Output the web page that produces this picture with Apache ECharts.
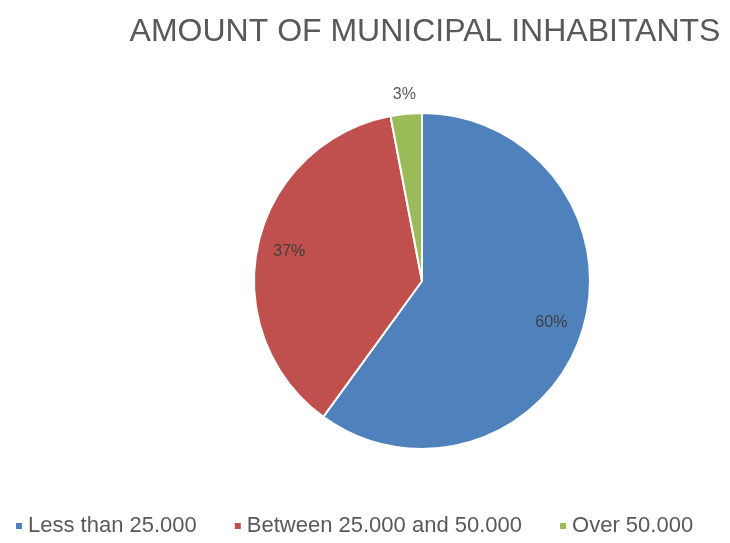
<!DOCTYPE html>
<html>
<head>
<meta charset="utf-8">
<script src="https://cdn.jsdelivr.net/npm/echarts@6/dist/echarts.min.js"></script>
<style>
  html, body { margin: 0; padding: 0; background: #fff; }
  #chart { width: 730px; height: 543px; }
</style>
</head>
<body>
<div id="chart"></div>
<script>
var categories = ["Less than 25.000", "Between 25.000 and 50.000", "Over 50.000"];
var shares = [60, 37, 3];
var colors = ["#4F81BD", "#C0504D", "#9BBB59"];

var pieData = categories.map(function (name, i) {
  return { name: name, value: shares[i], itemStyle: { color: colors[i] } };
});

// transparent pie used only to place labels at a given distance from the centre
function labelRing(outerR, showIdx, color) {
  return {
    type: "pie",
    silent: true,
    legendHoverLink: false,
    center: [422, 281],
    radius: [0, outerR],
    startAngle: 90,
    clockwise: true,
    data: categories.map(function (name, i) { return { name: name, value: shares[i] }; }),
    itemStyle: { color: "rgba(0,0,0,0)" },
    label: {
      show: true,
      position: "inside",
      formatter: function (p) {
        return showIdx.indexOf(p.dataIndex) >= 0 ? Math.round(p.percent) + "%" : "";
      },
      fontFamily: "Liberation Sans",
      fontSize: 16,
      color: color
    },
    labelLine: { show: false }
  };
}

var myChart = echarts.init(document.getElementById("chart"));
myChart.setOption({
  animation: false,
  title: {
    text: "AMOUNT OF MUNICIPAL INHABITANTS",
    left: 420,
    top: 11,
    textAlign: "center",
    textStyle: {
      fontFamily: "Liberation Sans",
      fontSize: 32,
      fontWeight: "normal",
      color: "#595959"
    }
  },
  legend: {
    bottom: 1,
    left: 9,
    itemWidth: 8,
    itemHeight: 8,
    itemGap: 36,
    icon: "rect",
    textStyle: { fontFamily: "Liberation Sans", fontSize: 22, color: "#595959" },
    data: categories
  },
  series: [
    {
      type: "pie",
      center: [422, 281],
      radius: [0, 168],
      startAngle: 90,
      clockwise: true,
      data: pieData,
      itemStyle: { borderColor: "#fff", borderWidth: 2 },
      label: { show: false },
      labelLine: { show: false }
    },
    labelRing(266, [0, 1], "#404040"),
    labelRing(368, [2], "#595959")
  ]
});
</script>
</body>
</html>
